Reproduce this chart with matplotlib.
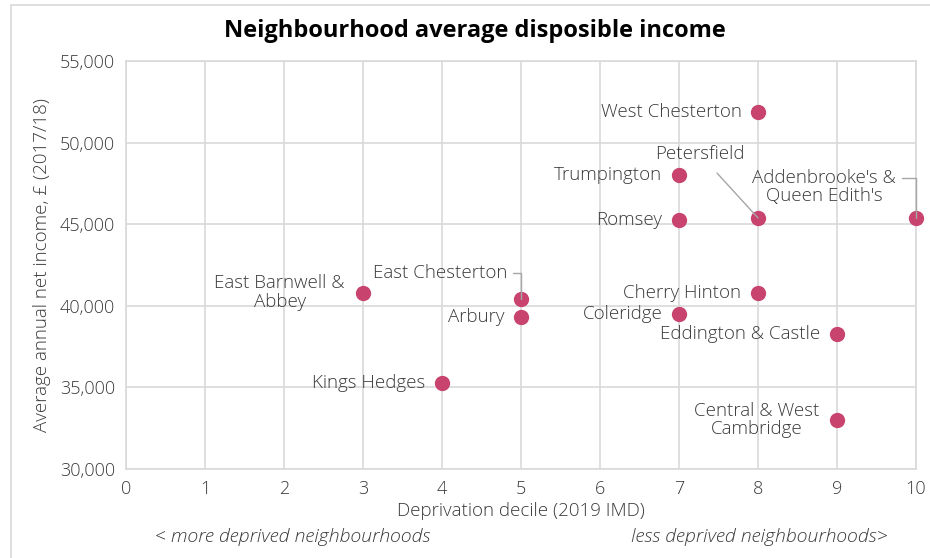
import matplotlib
matplotlib.use("Agg")
import matplotlib.pyplot as plt
from matplotlib.patches import Rectangle

# dados
bairros = ["West Chesterton", "Trumpington", "Romsey", "Petersfield",
           "Addenbrooke's &\nQueen Edith's", "East Barnwell &\nAbbey",
           "East Chesterton", "Arbury", "Cherry Hinton", "Coleridge",
           "Eddington & Castle", "Kings Hedges", "Central & West\nCambridge"]
decil = [8, 7, 7, 8, 10, 3, 5, 5, 8, 7, 9, 4, 9]
renda = [51900, 48000, 45250, 45380, 45400, 40800, 40400, 39300, 40800,
         39500, 38300, 35300, 33000]

x_ticks = list(range(0, 11))
y_ticks = [30000, 35000, 40000, 45000, 50000, 55000]

plt.rcParams['font.family'] = ['Open Sans', 'DejaVu Sans']
cor_texto = '#3A3A3A'
cor_grade = '#D9D9D9'
cor_ponto = '#C8446F'
fs = 13.5

fig = plt.figure(figsize=(9.3, 5.58), dpi=100)
ax = fig.add_axes([0.1355, 0.1595, 0.985 - 0.1355, 0.8907 - 0.1595])

ax.scatter(decil, renda, s=100, color=cor_ponto, zorder=3, clip_on=False)

ax.set_xlim(0, 10)
ax.set_ylim(30000, 55000)
ax.set_xticks(x_ticks)
ax.set_yticks(y_ticks)
ax.set_yticklabels([f"{v:,}" for v in y_ticks])
ax.grid(True, color=cor_grade, linewidth=1.2)
ax.set_axisbelow(True)
for s in ax.spines.values():
    s.set_color(cor_grade)
    s.set_linewidth(1.2)
ax.tick_params(length=0, labelsize=13, colors=cor_texto, pad=8)
for lbl in ax.get_xticklabels() + ax.get_yticklabels():
    lbl.set_fontweight('light')

ax.set_ylabel("Average annual net income, £ (2017/18)", fontsize=fs,
              color=cor_texto, fontweight='light', labelpad=6)
ax.set_xlabel("Deprivation decile (2019 IMD)", fontsize=fs,
              color=cor_texto, fontweight='light', labelpad=3)

# rótulos dos pontos (deslocamento em pontos)
offsets = {
    "West Chesterton": (-12, 0, 'right'),
    "Trumpington": (-12, 0, 'right'),
    "Romsey": (-12, 0, 'right'),
    "East Barnwell &\nAbbey": (-60, 0, 'center'),
    "Arbury": (-12, 0, 'right'),
    "Cherry Hinton": (-12, 0, 'right'),
    "Coleridge": (-12, 0, 'right'),
    "Eddington & Castle": (-12, 0, 'right'),
    "Kings Hedges": (-12, 0, 'right'),
    "Central & West\nCambridge": (-58, 0, 'center'),
}
for nome, x, y in zip(bairros, decil, renda):
    if nome in offsets:
        dx, dy, ha = offsets[nome]
        ax.annotate(nome, (x, y), xytext=(dx, dy), textcoords='offset points',
                    ha=ha, va='center', fontsize=fs, color=cor_texto,
                    fontweight='light', linespacing=1.05)

# rótulos com linha guia
guia = dict(arrowstyle='-', color='#A6A6A6', lw=1, shrinkB=0)
ax.annotate("East Chesterton", (5, 40400), xytext=(-10, 19),
            textcoords='offset points', ha='right', va='center', fontsize=fs,
            color=cor_texto, fontweight='light',
            arrowprops=dict(guia, shrinkA=2,
                            connectionstyle='angle,angleA=0,angleB=90,rad=0'))
ax.annotate("Petersfield", (8, 45380), xytext=(-42, 46),
            textcoords='offset points', ha='center', va='center', fontsize=fs,
            color=cor_texto, fontweight='light',
            arrowprops=dict(guia, shrinkA=7))
ax.annotate("Addenbrooke's &\nQueen Edith's", (10, 45400), xytext=(-66, 22),
            textcoords='offset points', ha='center', va='center', fontsize=fs,
            color=cor_texto, fontweight='light', linespacing=1.05,
            arrowprops=dict(guia, shrinkA=2, relpos=(1, 0.75),
                            connectionstyle='angle,angleA=0,angleB=90,rad=0'))

fig.text(0.511, 0.945, "Neighbourhood average disposible income", ha='center',
         va='center', fontsize=17, fontweight='bold', color='black')
fig.text(0.167, 0.037, "< more deprived neighbourhoods", ha='left',
         va='center', fontsize=14, style='italic', fontweight='light',
         color=cor_texto)
fig.text(0.954, 0.037, "less deprived neighbourhoods>", ha='right',
         va='center', fontsize=14, style='italic', fontweight='light',
         color=cor_texto)

fig.patches.append(Rectangle((0.012, -0.02), 1.1, 1.011, transform=fig.transFigure,
                             fill=False, edgecolor=cor_grade, lw=1.2))

fig.savefig("out.png", dpi=100)
